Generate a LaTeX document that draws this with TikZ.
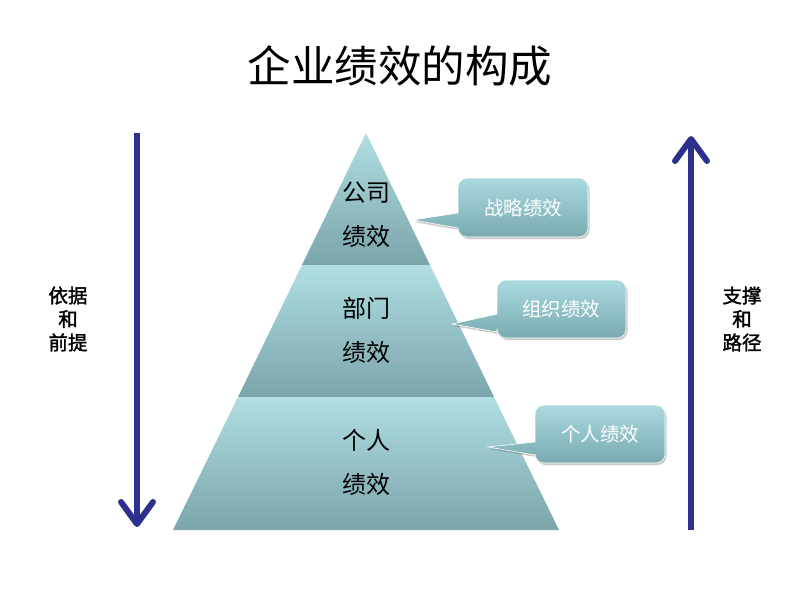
\documentclass[tikz,border=0pt]{standalone}
\usepackage{fontspec}
\usetikzlibrary{arrows.meta,shadows,calc}
\newfontfamily\cjk{Noto Sans CJK SC}
\newfontfamily\cjkb[FakeBold=1.6]{Noto Sans CJK SC}
\definecolor{bandtop}{RGB}{176,222,227}
\definecolor{bandbot}{RGB}{122,165,170}
\definecolor{calltop}{RGB}{170,218,223}
\definecolor{callbot}{RGB}{120,170,175}
\definecolor{navy}{RGB}{45,48,140}
\tikzset{
  band/.style={top color=bandtop, bottom color=bandbot, draw=none},
  callout/.style={top color=calltop, bottom color=callbot, draw=white, line width=0.6pt,
    drop shadow={shadow xshift=1.5pt, shadow yshift=-2pt, opacity=0.35, fill=black!60}},
  calltext/.style={font=\cjk\fontsize{19.5}{21}\selectfont, text=white, inner sep=0pt},
  bandtext/.style={font=\cjk\fontsize{24}{44}\selectfont, align=center, inner sep=0pt},
  sidetext/.style={font=\cjkb\fontsize{19.5}{23.5}\selectfont, align=center, inner sep=0pt},
  bigarrow/.style={draw=navy, line width=6pt,
    -{Straight Barb[length=22pt,width=32pt,line width=6pt,round]}}
}
\begin{document}
\begin{tikzpicture}[x=1pt,y=-1pt]
\useasboundingbox[fill=white] (0,0) rectangle (800,600);
% title
\node[font=\cjk\fontsize{43.5}{46}\selectfont, inner sep=0pt] (title) at (400,66) {企业绩效的构成};
% pyramid bands
\path[band] (366,133) -- (430,265) -- (302,265) -- cycle;
\path[band] (302,265) -- (430,265) -- (494,397) -- (238,397) -- cycle;
\path[band] (238,397) -- (494,397) -- (559,530) -- (173,530) -- cycle;
% band texts
\node[bandtext] (b1) at (366,215) {公司\\绩效};
\node[bandtext] (b2) at (366,330) {部门\\绩效};
\node[bandtext] (b3) at (366,462) {个人\\绩效};
% callouts
\path[callout] (413,220) -- (458,228) [rounded corners=9pt] -- (458,237) -- (588,237) -- (588,178) -- (458,178) [sharp corners] -- (458,213) -- cycle;
\path[callout] (452,324) -- (497,332) [rounded corners=9pt] -- (497,338) -- (626,338) -- (626,280) -- (497,280) [sharp corners] -- (497,314) -- cycle;
\path[callout] (488,447) -- (535,455) [rounded corners=9pt] -- (535,463) -- (665,463) -- (665,405) -- (535,405) [sharp corners] -- (535,442) -- cycle;
\node[calltext] (c1) at (523,208) {战略绩效};
\node[calltext] (c2) at (561,309) {组织绩效};
\node[calltext] (c3) at (600,434) {个人绩效};
% arrows
\coordinate (ltop) at (137,133);
\coordinate (lbot) at (137,527);
\coordinate (rbot) at (691,530);
\coordinate (rtop) at (691,136);
\draw[bigarrow] (ltop) -- (lbot);
\draw[bigarrow] (rbot) -- (rtop);
% side texts
\node[sidetext] (lt) at (68,319) {依据\\和\\前提};
\node[sidetext] (rt) at (742,319) {支撑\\和\\路径};
\end{tikzpicture}
\end{document}
